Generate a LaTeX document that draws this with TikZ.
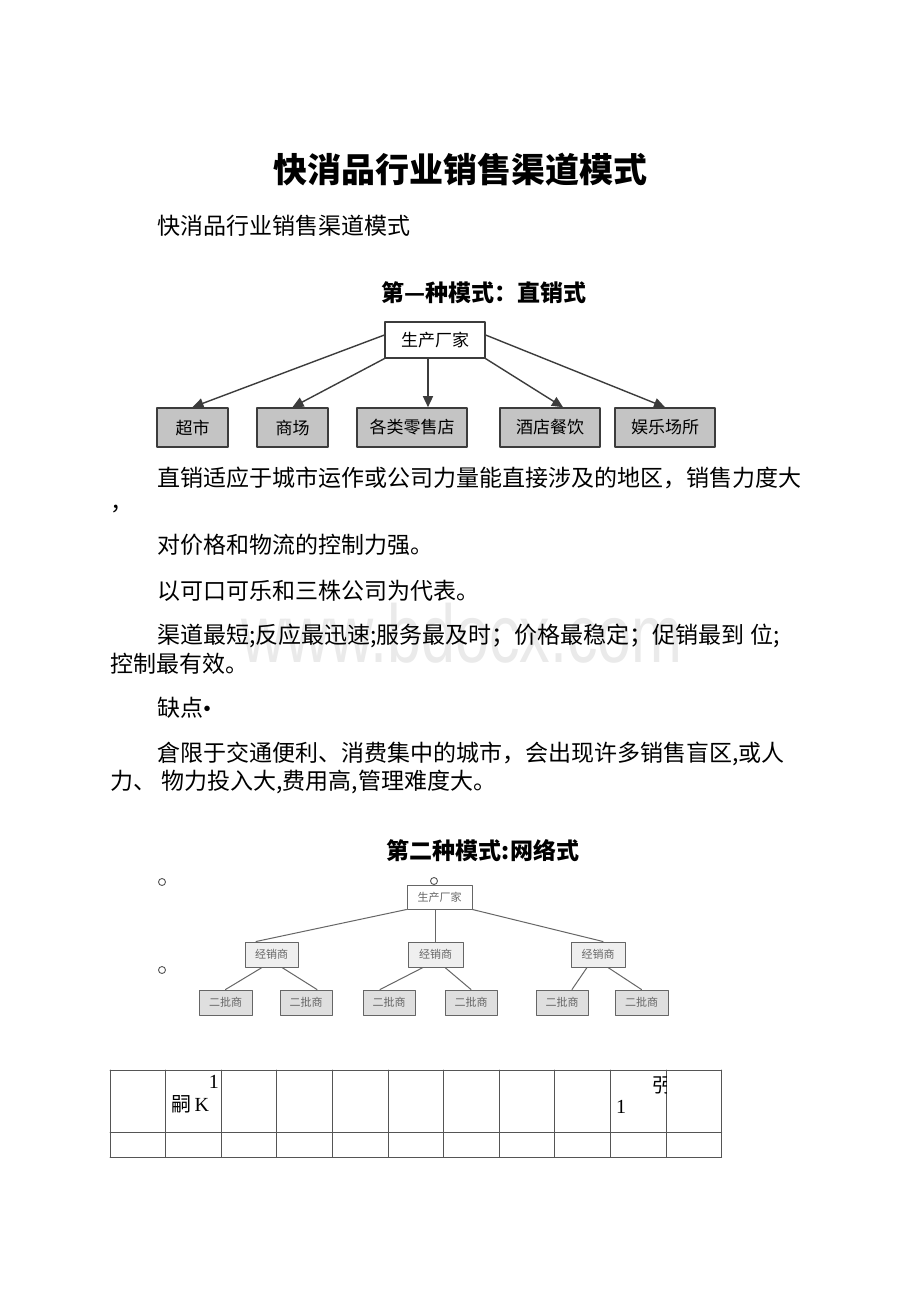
\documentclass[tikz,border=0pt]{standalone}
\usepackage{fontspec}
\setmainfont{Noto Sans CJK SC}
\newfontfamily\latinserif{Liberation Serif}
\newfontfamily\markfont{Liberation Sans}
\usetikzlibrary{arrows.meta}
\definecolor{edgegray}{HTML}{3C3C3C}
\definecolor{boxgray}{HTML}{C4C4C4}
\definecolor{lightbox}{HTML}{EFEFEF}
\definecolor{netgray}{HTML}{666666}
\definecolor{marktext}{HTML}{EAEAEA}
\definecolor{rulegray}{HTML}{555555}

\begin{document}
\begin{tikzpicture}[line cap=round,line join=round,x=1pt,y=-1pt,
  para/.style={anchor=west,inner sep=0pt,font=\fontsize{23}{23}\selectfont},
  head/.style={inner sep=0pt,font=\fontsize{23}{23}\selectfont\bfseries},
  topbox/.style={draw=edgegray,line width=1.2pt,fill=white,minimum height=36pt,inner sep=0pt,font=\fontsize{17}{17}\selectfont},
  outlet/.style={draw=edgegray,line width=1.6pt,fill=boxgray,minimum height=39pt,inner sep=0pt,font=\fontsize{17}{17}\selectfont},
  feed/.style={-{Triangle[length=11pt,width=10pt]},draw=edgegray,line width=1.4pt},
  netbox/.style={draw=netgray,line width=1pt,minimum height=25pt,inner sep=0pt,text=netgray,font=\fontsize{11}{11}\selectfont},
  link/.style={draw=netgray,line width=1pt},
  dot/.style={circle,draw=rulegray,line width=0.9pt,minimum size=7pt,inner sep=0pt},
  cell/.style={inner sep=0pt,font=\fontsize{20}{20}\selectfont},
  rule/.style={draw=rulegray,line width=0.9pt}]

\fill[white] (0,0) rectangle (920,1302);
\useasboundingbox (0,0) rectangle (920,1302);

\node[anchor=base,inner sep=0pt,text=marktext,xscale=0.745,font=\markfont\fontsize{82}{82}\selectfont] (mark) at (462,662) {www.bdocx.com};

\node[inner sep=0pt,font=\fontsize{34}{34}\selectfont\bfseries] (title) at (460,170) {快消品行业销售渠道模式};
\node[para] (sub) at (157,226) {快消品行业销售渠道模式};
\node[head] (mode1) at (484,293) {第—种模式：直销式};

\node[topbox,minimum width=100pt] (maker) at (435,340) {生产厂家};
\node[outlet,minimum width=71pt] (chaoshi) at (192.5,427.5) {超市};
\node[outlet,minimum width=71pt] (shangchang) at (292.5,427.5) {商场};
\node[outlet,minimum width=110pt] (lingshou) at (412,427.5) {各类零售店};
\node[outlet,minimum width=100pt] (jiudian) at (550,427.5) {酒店餐饮};
\node[outlet,minimum width=100pt] (yule) at (665,427.5) {娱乐场所};

\draw[feed] ([yshift=5pt]maker.west) -- (chaoshi.north);
\draw[feed] (maker.south west) -- (shangchang.north);
\draw[feed] ([xshift=-7pt]maker.south) -- ([xshift=-7pt]maker.south |- lingshou.north);
\draw[feed] (maker.south east) -- ([xshift=13pt]jiudian.north);
\draw[feed] ([yshift=5pt]maker.east) -- (yule.north);

\node[para] (p1) at (157,478) {直销适应于城市运作或公司力量能直接涉及的地区，销售力度大};
\node[inner sep=0pt,anchor=base west,font=\fontsize{23}{23}\selectfont] (p1b) at (110,510) {，};
\node[para] (p2) at (157,545) {对价格和物流的控制力强。};
\node[para] (p3) at (157,591) {以可口可乐和三株公司为代表。};
\node[para] (p4) at (157,636) {渠道最短;反应最迅速;服务最及时；价格最稳定；促销最到 位;};
\node[para] (p4b) at (110,664) {控制最有效。};
\node[para] (p5) at (157,708) {缺点{\latinserif •}};
\node[para] (p6) at (157,754) {倉限于交通便利、消费集中的城市，会出现许多销售盲区,或人};
\node[para] (p6b) at (110,782) {力、 物力投入大,费用高,管理难度大。};
\node[head] (mode2) at (483,851) {第二种模式:网络式};

\node[dot] (o1) at (162,882) {};
\node[dot] (o2) at (434,881) {};
\node[dot] (o3) at (162,970) {};

\node[netbox,fill=white,minimum width=65pt,minimum height=24pt] (maker2) at (439.5,897) {生产厂家};
\node[netbox,fill=lightbox,minimum width=53pt] (dist1) at (271.5,954.5) {经销商};
\node[netbox,fill=lightbox,minimum width=55pt] (dist2) at (435.5,954.5) {经销商};
\node[netbox,fill=lightbox,minimum width=54pt] (dist3) at (598,954.5) {经销商};
\node[netbox,fill=boxgray!55,minimum width=53pt] (sub1) at (225.5,1002.5) {二批商};
\node[netbox,fill=boxgray!55,minimum width=52pt] (sub2) at (306,1002.5) {二批商};
\node[netbox,fill=boxgray!55,minimum width=52pt] (sub3) at (389,1002.5) {二批商};
\node[netbox,fill=boxgray!55,minimum width=52pt] (sub4) at (471,1002.5) {二批商};
\node[netbox,fill=boxgray!55,minimum width=52pt] (sub5) at (562,1002.5) {二批商};
\node[netbox,fill=boxgray!55,minimum width=53pt] (sub6) at (641.5,1002.5) {二批商};

\draw[link] (maker2.south west) -- ([xshift=-15.5pt]dist1.north);
\draw[link] (dist2.north |- maker2.south) -- (dist2.north);
\draw[link] (maker2.south east) -- ([xshift=5pt]dist3.north);
\draw[link] ([xshift=-9.5pt]dist1.south) -- (sub1.north);
\draw[link] ([xshift=10.5pt]dist1.south) -- ([xshift=11pt]sub2.north);
\draw[link] ([xshift=-12.5pt]dist2.south) -- ([xshift=-9pt]sub3.north);
\draw[link] ([xshift=9.5pt]dist2.south) -- (sub4.north);
\draw[link] ([xshift=-11pt]dist3.south) -- ([xshift=10pt]sub5.north);
\draw[link] ([xshift=10pt]dist3.south) -- (sub6.north);

\foreach \r in {1070,1132,1157}
  \draw[rule] (110,\r) -- (721.6,\r);
\foreach \c in {0,...,11}
  \draw[rule] ({110+55.6*\c},1070) -- ({110+55.6*\c},1157);

\node[cell,anchor=east] (c1a) at (219,1082) {\latinserif 1};
\node[cell,anchor=west] (c1b) at (171,1104) {嗣\,{\latinserif K}};
\node[cell,anchor=west] (c9b) at (616,1107) {\latinserif 1};
\begin{scope}
\clip (610.4,1070) rectangle (666,1132);
\node[cell,anchor=west] (c9a) at (652,1085) {弜};
\end{scope}
\end{tikzpicture}
\end{document}
